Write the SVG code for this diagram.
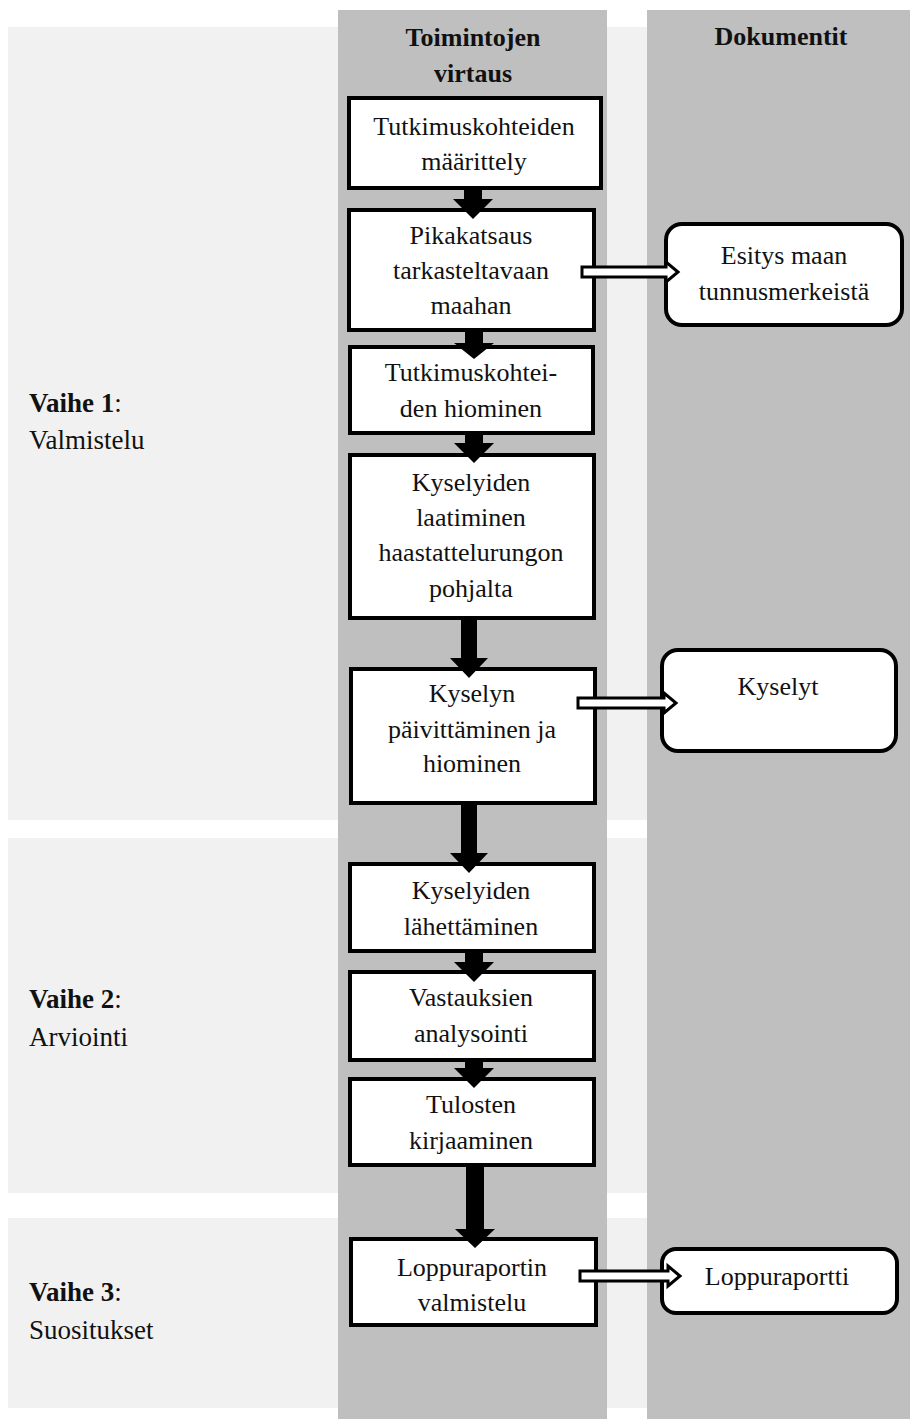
<svg xmlns="http://www.w3.org/2000/svg" width="910" height="1419" viewBox="0 0 910 1419">
<style>
.band{fill:#f1f1f1}
.col{fill:#bfbfbf}
.box{fill:#fff;stroke:#000;stroke-width:4}
.doc{fill:#fff;stroke:#000;stroke-width:4}
.t{font-family:"Liberation Serif","Times New Roman",serif;font-size:26px;fill:#111;text-anchor:middle}
.h{font-family:"Liberation Serif","Times New Roman",serif;font-size:26px;font-weight:bold;fill:#111;text-anchor:middle}
.p{font-family:"Liberation Serif","Times New Roman",serif;font-size:27px;fill:#111}
.blk{fill:#000}
.hol{fill:#fff;stroke:#000;stroke-width:3;stroke-linejoin:miter}
</style>
<rect width="910" height="1419" fill="#fff"/>
<g id="bands">
<rect class="band" x="8" y="27" width="902" height="793"/>
<rect class="band" x="8" y="838" width="902" height="355"/>
<rect class="band" x="8" y="1218" width="902" height="190"/>
</g>
<g id="columns">
<rect class="col" x="338" y="10" width="269" height="1409"/>
<rect class="col" x="647" y="10" width="263" height="1409"/>
</g>
<g id="headers">
<text class="h" x="473" y="46">Toimintojen</text>
<text class="h" x="473" y="82">virtaus</text>
<text class="h" x="781" y="45">Dokumentit</text>
</g>
<g id="phases">
<text class="p" x="29" y="412"><tspan font-weight="bold">Vaihe 1</tspan>:</text>
<text class="p" x="29" y="449">Valmistelu</text>
<text class="p" x="29" y="1008"><tspan font-weight="bold">Vaihe 2</tspan>:</text>
<text class="p" x="29" y="1046">Arviointi</text>
<text class="p" x="29" y="1301"><tspan font-weight="bold">Vaihe 3</tspan>:</text>
<text class="p" x="29" y="1339">Suositukset</text>
</g>
<g id="n1"><rect class="box" x="349" y="98" width="252" height="90"/><text class="t" x="474" y="135">Tutkimuskohteiden</text><text class="t" x="474" y="170">määrittely</text></g>
<g id="n2"><rect class="box" x="349" y="210" width="245" height="120"/><text class="t" x="471" y="244">Pikakatsaus</text><text class="t" x="471" y="279">tarkasteltavaan</text><text class="t" x="471" y="314">maahan</text></g>
<g id="n3"><rect class="box" x="350" y="347" width="243" height="86"/><text class="t" x="471" y="381">Tutkimuskohtei-</text><text class="t" x="471" y="417">den hiominen</text></g>
<g id="n4"><rect class="box" x="350" y="455" width="244" height="163"/><text class="t" x="471" y="491">Kyselyiden</text><text class="t" x="471" y="526">laatiminen</text><text class="t" x="471" y="561">haastattelurungon</text><text class="t" x="471" y="597">pohjalta</text></g>
<g id="n5"><rect class="box" x="351" y="669" width="244" height="134"/><text class="t" x="472" y="702">Kyselyn</text><text class="t" x="472" y="738">päivittäminen ja</text><text class="t" x="472" y="772">hiominen</text></g>
<g id="n6"><rect class="box" x="350" y="864" width="244" height="87"/><text class="t" x="471" y="899">Kyselyiden</text><text class="t" x="471" y="935">lähettäminen</text></g>
<g id="n7"><rect class="box" x="350" y="972" width="244" height="88"/><text class="t" x="471" y="1006">Vastauksien</text><text class="t" x="471" y="1042">analysointi</text></g>
<g id="n8"><rect class="box" x="350" y="1079" width="244" height="86"/><text class="t" x="471" y="1113">Tulosten</text><text class="t" x="471" y="1149">kirjaaminen</text></g>
<g id="n9"><rect class="box" x="351" y="1239" width="245" height="86"/><text class="t" x="472" y="1276">Loppuraportin</text><text class="t" x="472" y="1311">valmistelu</text></g>
<g id="d1"><rect class="doc" x="666" y="224" width="236" height="101" rx="16"/><text class="t" x="784" y="264">Esitys maan</text><text class="t" x="784" y="300">tunnusmerkeistä</text></g>
<g id="d2"><rect class="doc" x="662" y="650" width="234" height="101" rx="16"/><text class="t" x="778" y="695">Kyselyt</text></g>
<g id="d3"><rect class="doc" x="662" y="1249" width="235" height="64" rx="14"/><text class="t" x="777" y="1285">Loppuraportti</text></g>
<g id="connectors">
<path class="blk" d="M464,186h18v13h11l-20,20l-20,-20h11z"/>
<path class="blk" d="M465,329h18v14h11l-20,16l-20,-16h11z"/>
<path class="blk" d="M465,431h18v12h11l-20,20l-20,-20h11z"/>
<path class="blk" d="M461,616h16v42h11l-19,20l-19,-20h11z"/>
<path class="blk" d="M461,801h16v52h11l-19,20l-19,-20h11z"/>
<path class="blk" d="M465,949h18v13h11l-20,20l-20,-20h11z"/>
<path class="blk" d="M465,1058h18v10h11l-20,20l-20,-20h11z"/>
<path class="blk" d="M466,1163h18v66h11l-20,19l-20,-19h11z"/>
<path class="hol" d="M582,267h84v-5l12,10l-12,10v-5h-84z"/>
<path class="hol" d="M578,698h86v-5l12,10l-12,10v-5h-86z"/>
<path class="hol" d="M580,1271h88v-5l12,10l-12,10v-5h-88z"/>
</g>
</svg>
